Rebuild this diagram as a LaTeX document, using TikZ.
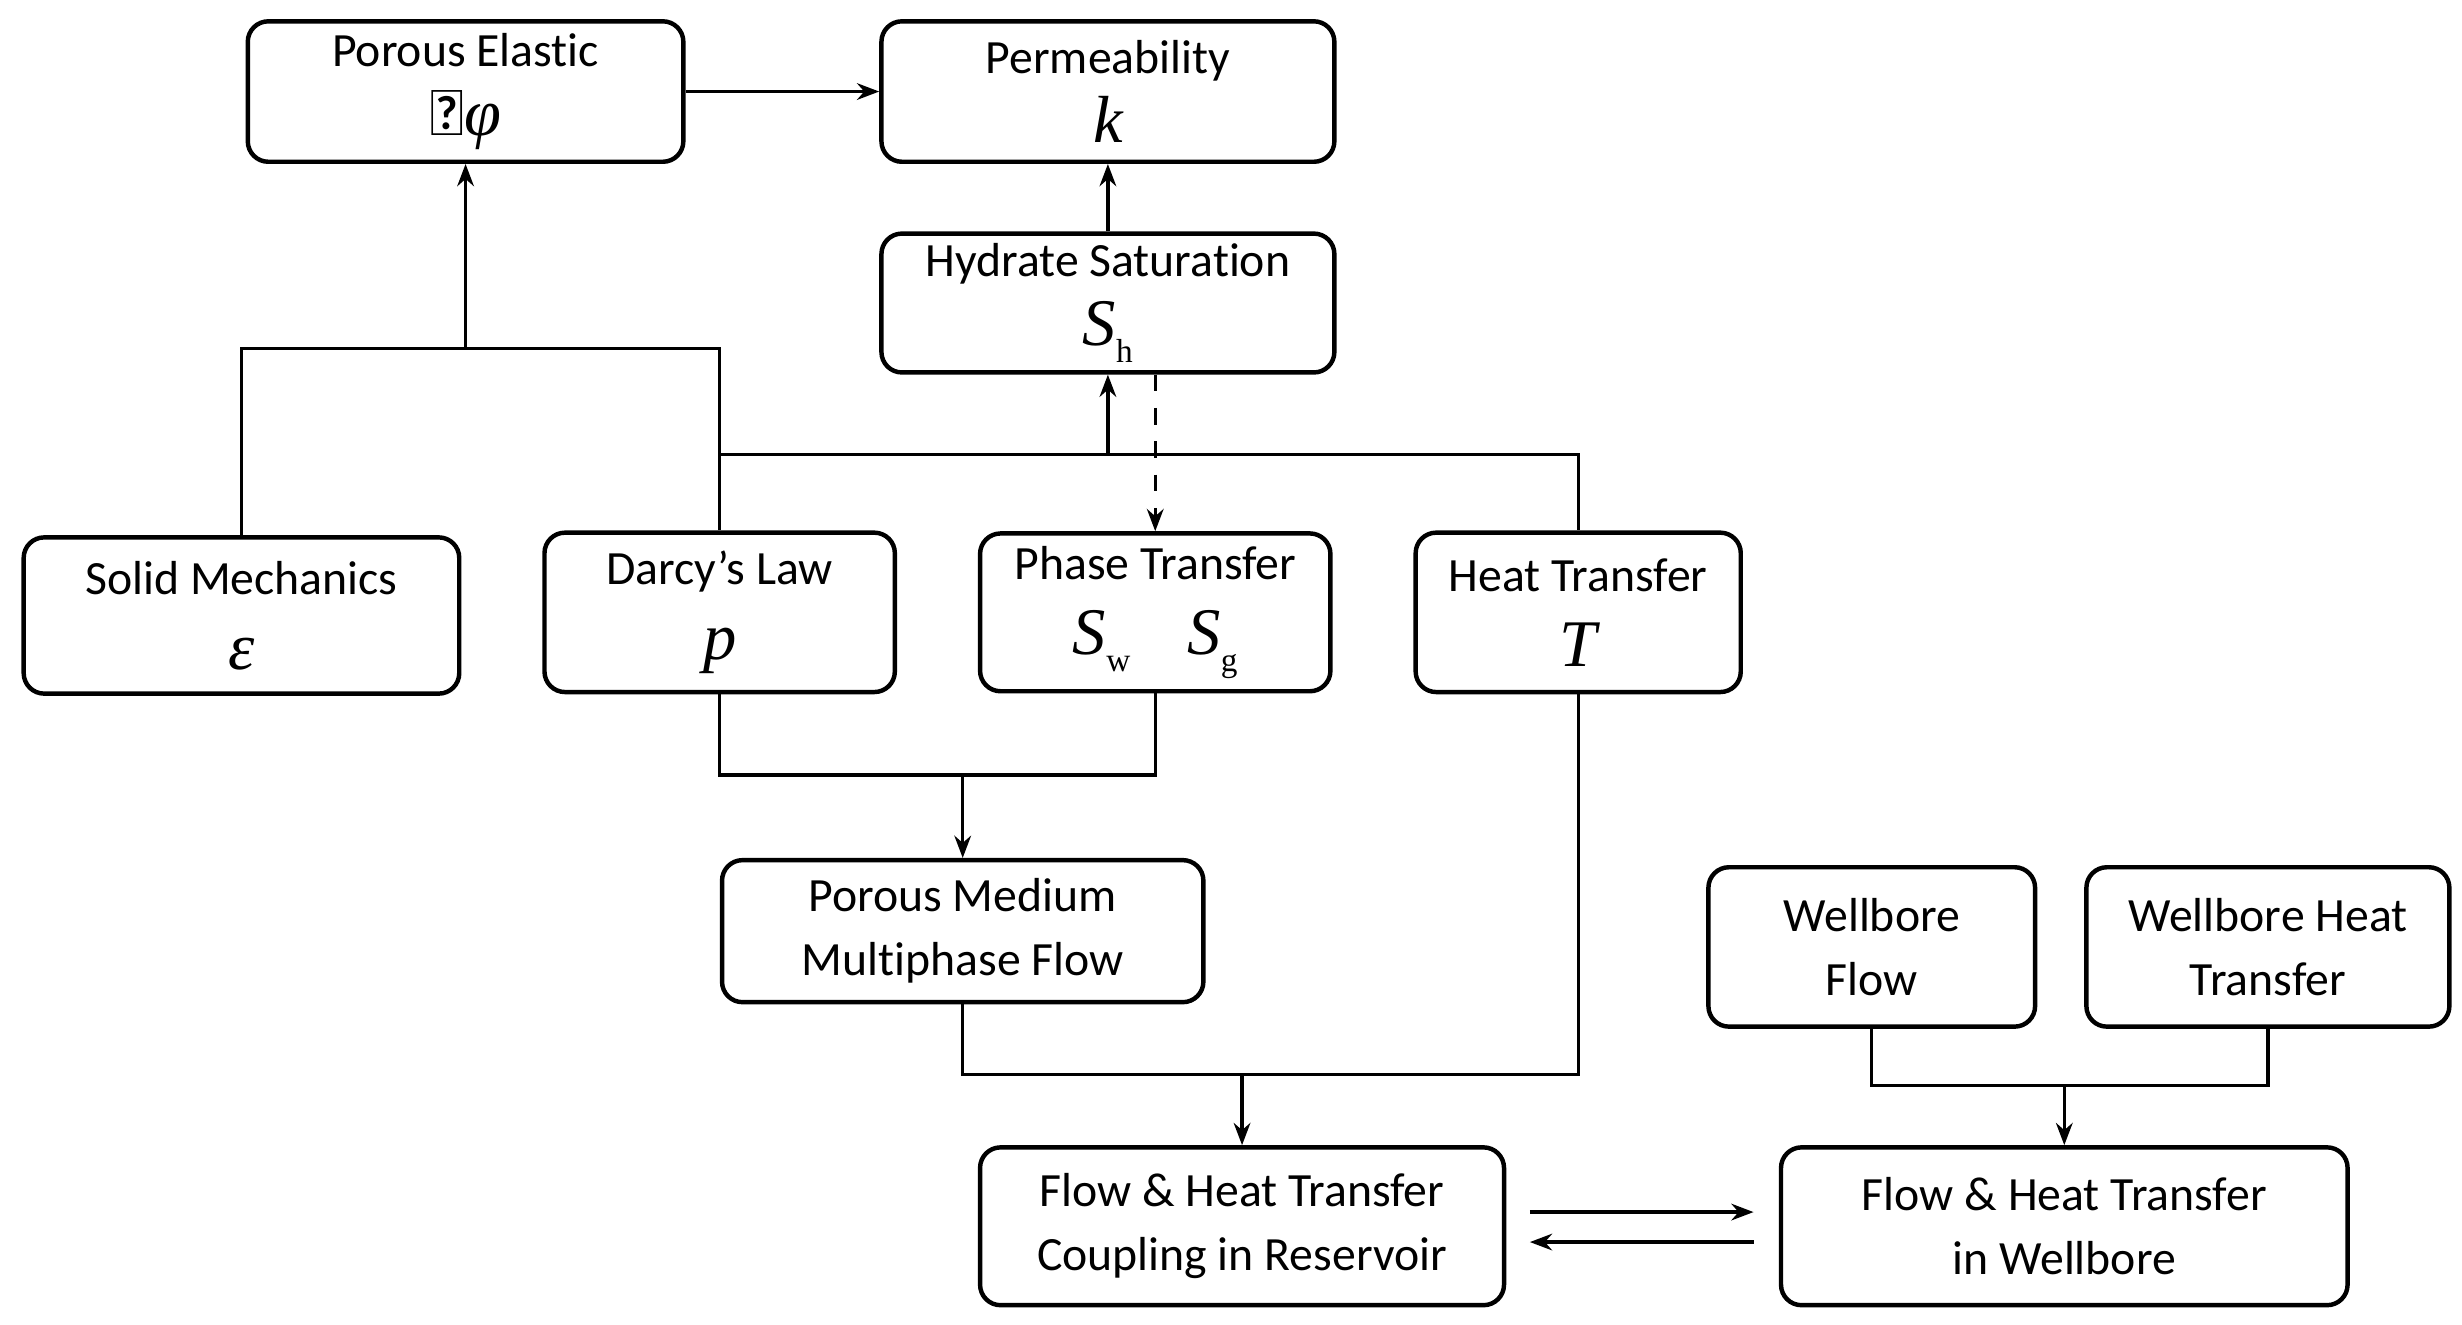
\documentclass[tikz,border=0pt]{standalone}
\usepackage{fontspec}
\setmainfont{Carlito}[Ligatures=NoCommon]
\newfontfamily\tms{Liberation Serif}
\usetikzlibrary{arrows.meta}
\newcommand{\mv}[1]{{\fontsize{12}{12}\selectfont\tms\itshape #1}}
\newcommand{\msub}[1]{\raisebox{-3pt}{\fontsize{6}{6}\selectfont\tms #1}}
\begin{document}
\begin{tikzpicture}[x=0.01cm,y=-0.01cm,
 box/.style={draw,line width=0.8pt,rounded corners=0.13cm,inner sep=0pt,align=center,font=\fontsize{8.6}{11.5}\selectfont},
 ln/.style={line width=0.6pt},
 ar/.style={line width=0.6pt,-{Stealth[length=4pt,width=3pt]}}]
\useasboundingbox (0,0) rectangle (1560,839);
\node[box,minimum width=276*0.01cm,minimum height=89*0.01cm] (pe) at (295,58) {Porous Elastic\\[1pt]{\fontsize{12}{12}\selectfont\tms$\mathrm{\Delta}$\itshape φ}};
\node[box,minimum width=287*0.01cm,minimum height=89*0.01cm] (pm) at (702,58) {Permeability\\[1pt]\mv{k}};
\node[box,minimum width=287*0.01cm,minimum height=88*0.01cm] (hs) at (702,192) {Hydrate Saturation\\[1pt]\mv{S}\msub{h}};
\node[box,minimum width=276*0.01cm,minimum height=99*0.01cm] (sm) at (153,390) {Solid Mechanics\\[2pt]\mv{ε}};
\node[box,minimum width=222*0.01cm,minimum height=101*0.01cm] (dl) at (456,388) {Darcy’s Law\\[2pt]\mv{p}};
\node[box,minimum width=222*0.01cm,minimum height=100*0.01cm] (pt) at (732,388) {Phase Transfer\\[2pt]\mv{S}\msub{w}\hspace{1.2em}\mv{S}\msub{g}};
\node[box,minimum width=206*0.01cm,minimum height=101*0.01cm] (ht) at (1000,388) {Heat Transfer\\[2pt]\mv{T}};
\node[box,minimum width=305*0.01cm,minimum height=90*0.01cm] (mf) at (610,590) {Porous Medium\\Multiphase Flow};
\node[box,minimum width=207*0.01cm,minimum height=101*0.01cm] (wf) at (1186,600) {Wellbore\\Flow};
\node[box,minimum width=230*0.01cm,minimum height=101*0.01cm] (wh) at (1437,600) {Wellbore Heat\\Transfer};
\node[box,minimum width=332*0.01cm,minimum height=100*0.01cm] (cr) at (787,777) {Flow \& Heat Transfer\\Coupling in Reservoir};
\node[box,minimum width=359*0.01cm,minimum height=100*0.01cm] (cw) at (1308,777) {Flow \& Heat Transfer\\in Wellbore};
\coordinate (j1) at (295,221);
\coordinate (j2) at (702,288);
\coordinate (j3) at (610,491);
\coordinate (j4) at (787,681);
\coordinate (j5) at (1308,688);
\draw[ar] (pe.east) -- (pm.west);
\draw[ar] (hs.north) -- (pm.south);
\draw[ln] (sm.north) |- (j1) -| (dl.north);
\draw[ar] (j1) -- (pe.south);
\draw[ln] (dl.north) |- (j2) -| (ht.north);
\draw[ar] (j2) -- (hs.south);
\draw[ar,dashed] (hs.south -| pt.north) -- (pt.north);
\draw[ln] (dl.south) |- (j3) -| (pt.south);
\draw[ar] (j3) -- (mf.north);
\draw[ln] (mf.south) |- (j4) -| (ht.south);
\draw[ar] (j4) -- (cr.north);
\draw[ln] (wf.south) |- (j5) -| (wh.south);
\draw[ar] (j5) -- (cw.north);
\draw[ar] ([xshift=15*0.01cm,yshift=9*0.01cm]cr.east) -- ([xshift=-16*0.01cm,yshift=9*0.01cm]cw.west);
\draw[ar] ([xshift=-16*0.01cm,yshift=-10*0.01cm]cw.west) -- ([xshift=15*0.01cm,yshift=-10*0.01cm]cr.east);
\end{tikzpicture}
\end{document}
